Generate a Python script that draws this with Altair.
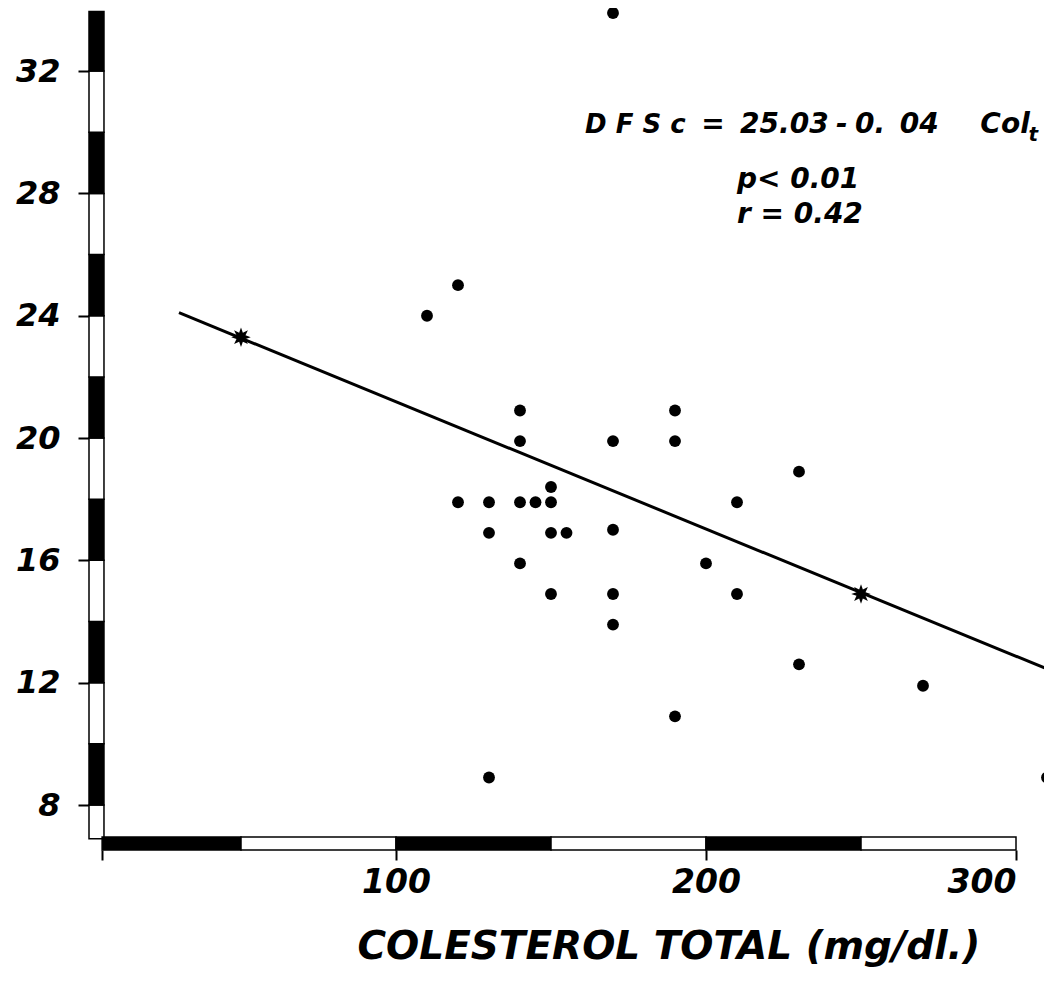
import math
import altair as alt
import pandas as pd

# ---- data ----
chol = [110, 120, 120, 130, 130, 130, 140, 145, 140, 140, 150, 150, 150, 155, 140, 150,
        170, 170, 170, 170, 170, 190, 190, 190, 200, 210, 210, 230, 230, 270, 310]
dfsc = [24.0, 25.0, 17.9, 17.9, 16.9, 8.9, 17.9, 17.9, 20.9, 19.9, 18.4, 17.9, 16.9, 16.9, 15.9, 14.9,
        19.9, 17.0, 14.9, 13.9, 33.9, 20.9, 19.9, 10.9, 15.9, 17.9, 14.9, 18.9, 12.6, 11.9, 8.9]

line_chol = [30, 310]
line_dfsc = [24.1, 12.45]
star_chol = [50, 250]
star_dfsc = [23.3, 14.9]

x_ticks = [5.2, 100, 200, 300]          # first tick marks the axis origin (unlabelled)
y_ticks = [8, 12, 16, 20, 24, 28, 32]
y_bar_edges = [6.9, 8, 10, 12, 14, 16, 18, 20, 22, 24, 26, 28, 30, 32, 33.95]
x_bar_edges = [5.2, 50, 100, 150, 200, 250, 300]
x_title = "COLESTEROL TOTAL (mg/dl.)"

note_text = ["D F S c", "=", "25.03", "-", "0.", "04", "Col", "p< 0.01", "r = 0.42"]
note_x = [161.0, 198.5, 211.0, 241.9, 248.1, 262.5, 288.5, 210.0, 210.0]
note_y = [29.98, 29.98, 29.98, 29.98, 29.98, 29.98, 29.98, 28.18, 27.03]
note_size = [26, 28, 28, 28, 28, 28, 28, 28, 28]
sub_text = ["t"]
sub_x = [304.0]
sub_y = [29.71]

# ---- styling ----
FONT = "DejaVu Sans"
W, H = 1036, 960
xs = alt.Scale(domain=[-25.16, 309.03], nice=False, zero=False)
ys = alt.Scale(domain=[2.670, 34.063], nice=False, zero=False)

pts = []
for k in range(16):
    a = math.pi / 2 + k * math.pi / 8
    r = 1.0 if k % 2 == 0 else 0.5
    pts.append(f"{r * math.cos(a):.3f},{-r * math.sin(a):.3f}")
star_path = "M" + " L".join(pts) + " Z"

x_axis = alt.Axis(
    values=x_ticks, orient="bottom", offset=-118, domain=False, grid=False,
    tickSize=10, tickWidth=2, tickColor="black",
    labelFont=FONT, labelFontSize=33, labelFontStyle="italic", labelFontWeight="bold",
    labelColor="black", labelBaseline="alphabetic", labelPadding=32,
    labelExpr="datum.value < 50 ? '' : datum.label",
    labelAlign={"condition": {"test": "datum.value == 300", "value": "right"}, "value": "center"},
    labelOverlap=False, labelFlush=False,
    title=x_title, titleFont=FONT, titleFontSize=39, titleFontStyle="italic",
    titleFontWeight="bold", titleColor="black", titleAlign="left", titleAnchor="start",
    titleX=349, titleY=108, titleBaseline="alphabetic",
)
y_axis = alt.Axis(
    values=y_ticks, orient="left", offset=-83, domain=False, grid=False,
    tickSize=13, tickWidth=2, tickColor="black",
    labelFont=FONT, labelFontSize=32, labelFontStyle="italic", labelFontWeight="bold",
    labelColor="black", labelPadding=18, labelOverlap=False, title=None,
)


def X(f):
    return alt.X(f, type="quantitative", scale=xs, axis=x_axis)


def Y(f):
    return alt.Y(f, type="quantitative", scale=ys, axis=y_axis)


pts_df = pd.DataFrame({"chol": chol, "dfsc": dfsc})
points = alt.Chart(pts_df).mark_circle(size=140, color="black", opacity=1).encode(
    x=X("chol"), y=Y("dfsc"),
)

line = alt.Chart(pd.DataFrame({"chol": line_chol, "dfsc": line_dfsc})).mark_line(
    color="black", strokeWidth=3
).encode(x=X("chol"), y=Y("dfsc"))

stars = alt.Chart(pd.DataFrame({"chol": star_chol, "dfsc": star_dfsc})).mark_point(
    shape=star_path, filled=True, size=380, color="black", opacity=1
).encode(x=X("chol"), y=Y("dfsc"))

ybar_df = pd.DataFrame({"lo": y_bar_edges[:-1], "hi": y_bar_edges[1:],
                        "i": list(range(len(y_bar_edges) - 1))})
ybar = alt.Chart(ybar_df).mark_rect(stroke="black", strokeWidth=1.5).encode(
    x=alt.XDatum(0.97, type="quantitative", scale=xs, axis=x_axis),
    x2=alt.X2Datum(5.8),
    y=Y("lo"),
    y2="hi:Q",
    fill=alt.condition("datum.i % 2 == 1", alt.value("black"), alt.value("white")),
)

xbar_df = pd.DataFrame({"lo": x_bar_edges[:-1], "hi": x_bar_edges[1:],
                        "i": list(range(len(x_bar_edges) - 1))})
xbar = alt.Chart(xbar_df).mark_rect(stroke="black", strokeWidth=1.5).encode(
    x=X("lo"),
    x2="hi:Q",
    y=alt.YDatum(6.95, type="quantitative", scale=ys, axis=y_axis),
    y2=alt.Y2Datum(6.53),
    fill=alt.condition("datum.i % 2 == 0", alt.value("black"), alt.value("white")),
)

notes = alt.Chart(pd.DataFrame({"t": note_text, "x": note_x, "y": note_y, "s": note_size})).mark_text(
    align="left", baseline="alphabetic", font=FONT,
    fontStyle="italic", fontWeight="bold", color="black"
).encode(
    x=X("x"), y=Y("y"),
    size=alt.Size("s:Q", scale=None, legend=None),
    text="t:N",
)

sub = alt.Chart(pd.DataFrame({"t": sub_text, "x": sub_x, "y": sub_y})).mark_text(
    align="left", baseline="alphabetic", font=FONT, fontSize=20,
    fontStyle="italic", fontWeight="bold", color="black"
).encode(x=X("x"), y=Y("y"), text="t:N")

chart = alt.layer(ybar, xbar, line, points, stars, notes, sub).properties(
    width=W, height=H,
    autosize=alt.AutoSizeParams(type="none"),
    padding=0,
    background="white",
).configure_view(stroke=None)

chart.save("out.html", embed_options={"renderer": "svg", "actions": False})
